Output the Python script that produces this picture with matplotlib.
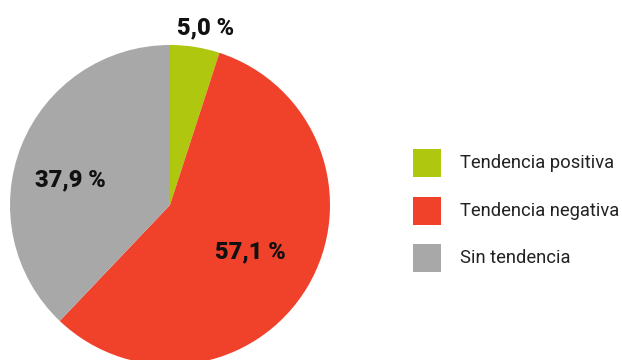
import matplotlib.pyplot as plt
from matplotlib.patches import Rectangle

plt.rcParams['font.family'] = ['Roboto', 'DejaVu Sans']

categorias = ['Tendencia positiva', 'Tendencia negativa', 'Sin tendencia']
porcentajes = [5.0, 57.1, 37.9]
colores = ['#afc70f', '#f0412b', '#a8a8a8']

# posiciones de las etiquetas (coordenadas de datos, radio del pastel = 1)
pos_etiquetas = [(0.225, 1.105), (0.5, -0.295), (-0.62, 0.155)]

W, H = 622, 360
fig = plt.figure(figsize=(W / 100, H / 100), dpi=100)
ax = fig.add_axes([0, 0, 1, 1])

wedges, _ = ax.pie(porcentajes, colors=colores, startangle=90, counterclock=False,
                   radius=1, center=(0, 0), wedgeprops=dict(linewidth=0))

for p, (x, y) in zip(porcentajes, pos_etiquetas):
    txt = f"{p:.1f}".replace('.', ',') + ' %'
    ax.text(x, y, txt, ha='center', va='center', fontsize=17,
            fontweight='black', color='#111111')

ax.set_xlim(-170 / 160, (W - 170) / 160)
ax.set_ylim(-(H - 205) / 160, 205 / 160)
ax.set_aspect('equal')
ax.axis('off')

# leyenda dibujada a mano (px)
for i, (cat, col) in enumerate(zip(categorias, colores)):
    top = 149 + 47.5 * i
    fig.patches.append(Rectangle((413 / W, 1 - (top + 28) / H), 28 / W, 28 / H,
                                 transform=fig.transFigure, color=col, lw=0))
    fig.text(460 / W, 1 - (top + 14) / H, cat, ha='left', va='center',
             fontsize=13.2, color='#222222')

fig.savefig('out.png', dpi=100)
